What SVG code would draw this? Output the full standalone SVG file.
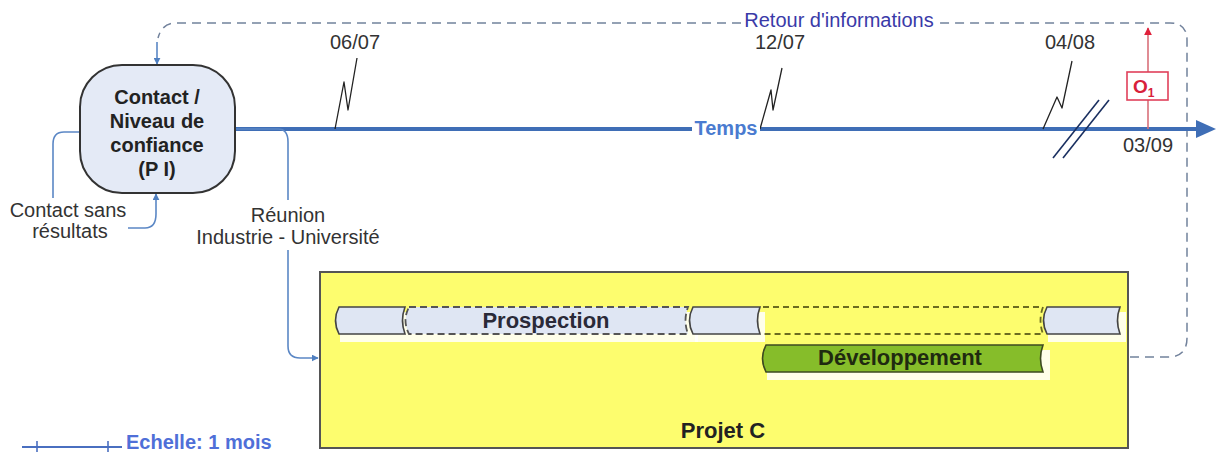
<svg xmlns="http://www.w3.org/2000/svg" width="1216" height="452" viewBox="0 0 1216 452">
<defs>
<style>
text{font-family:"Liberation Sans",Arial,sans-serif;}
.lbl{font-size:20px;fill:#333;}
.bold{font-weight:bold;}
.thin{fill:none;stroke:#5b87c5;stroke-width:1.6;}
.zig{fill:none;stroke:#222;stroke-width:1.3;stroke-linejoin:round;}
.tape{fill:#dfe6f3;stroke:#444;stroke-width:1.6;}
.tapedash{fill:#dfe6f3;stroke:#555;stroke-width:1.8;stroke-dasharray:7,4;}
.empty{fill:none;stroke:#6b6b20;stroke-width:1.8;stroke-dasharray:6,4;}
.shadow{fill:#fff;opacity:0.85;}
</style>
<marker id="ab" viewBox="0 0 10 10" refX="9" refY="5" markerWidth="7" markerHeight="7" orient="auto" markerUnits="userSpaceOnUse"><path d="M0,0 L10,5 L0,10 z" fill="#4f7fc0"/></marker>
<marker id="ar" viewBox="0 0 10 10" refX="9" refY="5" markerWidth="8" markerHeight="8" orient="auto" markerUnits="userSpaceOnUse"><path d="M0,0 L10,5 L0,10 z" fill="#e0203a"/></marker>
</defs>
<rect width="1216" height="452" fill="#fff"/>

<g id="connectors">
<!-- feedback dashed loop -->
<path d="M1130,357 L1168,357 Q1187,357 1187,338 L1187,40 Q1187,23 1170,23 L937,23" fill="none" stroke="#72829c" stroke-width="1.5" stroke-dasharray="9,6"/>
<path d="M741,23 L176,23 Q162,23 158,38" fill="none" stroke="#72829c" stroke-width="1.5" stroke-dasharray="9,6"/>
<path d="M157,42 L157,64" class="thin" marker-end="url(#ab)"/>
<!-- timeline -->
<path d="M236,129 L1198,129" stroke="#3f6eb6" stroke-width="4" fill="none"/>
<path d="M1196,120 L1216,129 L1196,138 z" fill="#3f6eb6"/>
<!-- contact sans resultats loop -->
<path d="M80,132 L64,132 Q53,132 53,144 L53,198" class="thin"/>
<path d="M128,228 L145,228 Q156,228 156,214 L156,194" class="thin" marker-end="url(#ab)"/>
<!-- reunion branch -->
<path d="M236,129 L278,129 Q288,129 288,142 L288,200" class="thin"/>
<path d="M288,250 L288,346 Q288,358 300,358 L318,358" class="thin" marker-end="url(#ab)"/>
<!-- zigzags -->
<polyline class="zig" points="335,129 344,82 348,110 357,58"/>
<polyline class="zig" points="760,129 771,90 773,110 782,68"/>
<polyline class="zig" points="1043,129 1057,97 1062,108 1072,61"/>
<line x1="1053" y1="158" x2="1099" y2="100" stroke="#1a2f60" stroke-width="1.6"/>
<line x1="1063" y1="158" x2="1109" y2="100" stroke="#1a2f60" stroke-width="1.6"/>
<!-- O1 red -->
<line x1="1148" y1="129" x2="1148" y2="28" stroke="#d9707a" stroke-width="1.6" marker-end="url(#ar)"/>
</g>

<g id="timeline-labels">
<rect x="692" y="118" width="68" height="21" fill="#fff"/>
<text x="726" y="135" font-size="20" class="bold" fill="#4a7bd0" text-anchor="middle">Temps</text>
<text x="355" y="49" class="lbl" text-anchor="middle">06/07</text>
<text x="780" y="49" class="lbl" text-anchor="middle">12/07</text>
<text x="1070" y="49" class="lbl" text-anchor="middle">04/08</text>
<text x="1148" y="152" class="lbl" text-anchor="middle">03/09</text>
<text x="839" y="27" font-size="20" fill="#3a3aa8" text-anchor="middle">Retour d'informations</text>
</g>

<g id="o1">
<rect x="1127" y="72" width="41" height="28" fill="#fff" stroke="#e0405a" stroke-width="1.6"/>
<text x="1133" y="93" font-size="19" class="bold" fill="#d8203a">O<tspan font-size="12" dy="4">1</tspan></text>
</g>

<g id="contact">
<rect x="80" y="65" width="155" height="128" rx="42" ry="42" fill="#e4eaf6" stroke="#333" stroke-width="2"/>
<text x="157" y="104" font-size="20" class="bold" fill="#222" text-anchor="middle">Contact /</text>
<text x="157" y="128" font-size="20" class="bold" fill="#222" text-anchor="middle">Niveau de</text>
<text x="157" y="152" font-size="20" class="bold" fill="#222" text-anchor="middle">confiance</text>
<text x="157" y="176" font-size="20" class="bold" fill="#222" text-anchor="middle">(P I)</text>
</g>

<g id="contact-sans">
<text x="68" y="217" class="lbl" text-anchor="middle">Contact sans</text>
<text x="70" y="238" class="lbl" text-anchor="middle">résultats</text>
</g>

<g id="reunion">
<text x="288" y="222" class="lbl" text-anchor="middle">Réunion</text>
<text x="288" y="244" class="lbl" text-anchor="middle">Industrie - Université</text>
</g>

<g id="projet-c">
<rect x="320" y="272" width="808" height="176" fill="#fdfd6e" stroke="#555" stroke-width="2"/>
<!-- shadows -->
<rect class="shadow" x="340" y="312" width="358" height="30"/>
<rect class="shadow" x="695" y="312" width="70" height="30"/>
<rect class="shadow" x="1048" y="312" width="78" height="30"/>
<rect class="shadow" x="767" y="350" width="283" height="30"/>
<!-- tapes -->
<path class="tape" d="M339,307 L405,307 Q400,320.5 405,334 L339,334 Q332,320.5 339,307 z"/>
<path class="tapedash" d="M409,307 L688,307 Q683,320.5 688,334 L409,334 Q402,320.5 409,307 z"/>
<path class="tape" d="M693,307 L760,307 Q755,320.5 760,334 L693,334 Q686,320.5 693,307 z"/>
<path class="empty" d="M763,307 L1043,307 Q1038,320.5 1043,334 L763,334"/>
<path class="tape" d="M1047,307 L1120,307 Q1115,320.5 1120,334 L1047,334 Q1040,320.5 1047,307 z"/>
<path d="M766,345 L1043,345 Q1038,358.5 1043,372 L766,372 Q759,358.5 766,345 z" fill="#86bd2a" stroke="#3d4a20" stroke-width="1.6"/>
<text x="546" y="328" font-size="22" class="bold" fill="#2a2a38" text-anchor="middle">Prospection</text>
<text x="900" y="365" font-size="22" class="bold" fill="#1f2a10" text-anchor="middle">Développement</text>
<text x="723" y="438" font-size="22" class="bold" fill="#222" text-anchor="middle">Projet C</text>
</g>

<g id="echelle">
<line x1="22" y1="447" x2="122" y2="447" stroke="#4a6fc0" stroke-width="2"/>
<line x1="37" y1="441" x2="37" y2="452" stroke="#4a6fc0" stroke-width="1.6"/>
<line x1="108" y1="441" x2="108" y2="452" stroke="#4a6fc0" stroke-width="1.6"/>
<text x="126" y="449" font-size="20" class="bold" fill="#4f6fd8">Echelle: 1 mois</text>
</g>
</svg>
